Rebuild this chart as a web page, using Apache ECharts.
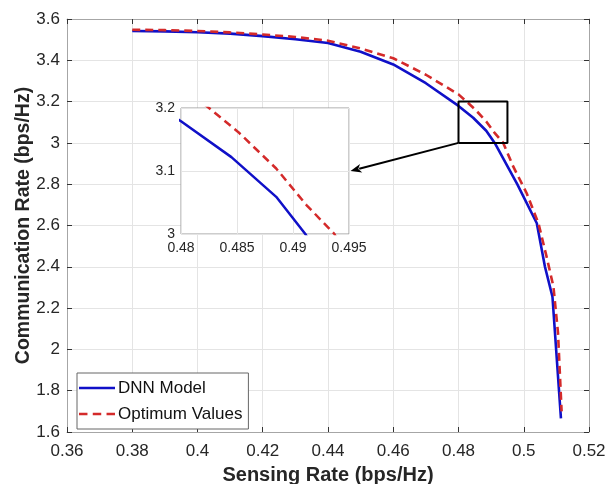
<!DOCTYPE html>
<html>
<head>
<meta charset="utf-8">
<script src="https://cdn.jsdelivr.net/npm/echarts@6/dist/echarts.min.js"></script>
<style>html,body{margin:0;padding:0;background:#fff}#c{width:608px;height:484px}</style>
</head>
<body>
<div id="c"></div>
<script>
// Data
const dnnX = [0.38, 0.39, 0.40, 0.41, 0.42, 0.43, 0.44, 0.45, 0.46, 0.47, 0.48, 0.4845, 0.4885, 0.4911, 0.498, 0.504, 0.5065, 0.5088, 0.5114];
const dnnY = [3.542, 3.540, 3.536, 3.529, 3.517, 3.502, 3.484, 3.441, 3.380, 3.289, 3.179, 3.122, 3.059, 3.000, 2.800, 2.611, 2.400, 2.255, 1.666];
const optX = [0.38, 0.39, 0.40, 0.41, 0.42, 0.43, 0.44, 0.45, 0.46, 0.47, 0.48, 0.4825, 0.4851, 0.4885, 0.4912, 0.4937, 0.4968, 0.5009, 0.5045, 0.5070, 0.5091, 0.5105, 0.5116];
const optY = [3.548, 3.546, 3.542, 3.535, 3.525, 3.513, 3.495, 3.457, 3.410, 3.330, 3.235, 3.200, 3.162, 3.104, 3.046, 3.000, 2.885, 2.756, 2.611, 2.449, 2.304, 2.080, 1.700];
const seriesNames = ['DNN Model', 'Optimum Values'];
const zoomX = [0.48, 0.495];
const zoomY = [3.0, 3.2];
const xTicks = {min: 0.36, max: 0.52, interval: 0.02};
const yTicks = {min: 1.6, max: 3.6, interval: 0.2};
const insetXTicks = {min: 0.48, max: 0.495, interval: 0.005};
const insetYTicks = {min: 3.0, max: 3.2, interval: 0.1};

const pairs = (xs, ys) => xs.map((x, i) => [x, ys[i]]);
const fmt = v => String(+(+v).toFixed(4));
const FONT = 'Liberation Sans';
const BLUE = '#1010c8';
const RED = '#d42a2a';
const gridLine = {show: true, lineStyle: {color: '#e4e4e4', width: 1}};

const chart = echarts.init(document.getElementById('c'));
const mainAxisX = (pos, labels) => ({
  type: 'value', gridIndex: 0, position: pos, min: xTicks.min, max: xTicks.max, interval: xTicks.interval,
  axisLine: {show: true, onZero: false, lineStyle: {color: '#a6a6a6', width: 1}},
  axisTick: {show: true, inside: true, length: 5, lineStyle: {color: '#333'}},
  axisLabel: {show: labels, color: '#262626', fontFamily: FONT, fontSize: 17, margin: 11, formatter: fmt},
  splitLine: labels ? gridLine : {show: false},
  name: labels ? 'Sensing Rate (bps/Hz)' : '', nameLocation: 'middle', nameGap: 33, nameMoveOverlap: false,
  nameTextStyle: {color: '#262626', fontFamily: FONT, fontSize: 20, fontWeight: 'bold'}
});
const mainAxisY = (pos, labels) => ({
  type: 'value', gridIndex: 0, position: pos, min: yTicks.min, max: yTicks.max, interval: yTicks.interval,
  axisLine: {show: true, onZero: false, lineStyle: {color: '#a6a6a6', width: 1}},
  axisTick: {show: true, inside: true, length: 5, lineStyle: {color: '#333'}},
  axisLabel: {show: labels, color: '#262626', fontFamily: FONT, fontSize: 17, margin: 7, formatter: fmt},
  splitLine: labels ? gridLine : {show: false},
  name: labels ? 'Communication Rate (bps/Hz)' : '', nameLocation: 'middle', nameGap: 33, nameRotate: 90, nameMoveOverlap: false,
  nameTextStyle: {color: '#262626', fontFamily: FONT, fontSize: 19.5, fontWeight: 'bold'}
});

const option = {
  animation: false,
  backgroundColor: '#fff',
  grid: [
    {left: 67, top: 19, right: 19, bottom: 52, show: false, containLabel: false, outerBoundsMode: 'none'},
    {left: 181, top: 108, width: 168, height: 126, show: true, backgroundColor: '#fff', borderColor: '#9a9a9a', borderWidth: 1, z: 5,
     containLabel: false, outerBoundsMode: 'none'}
  ],
  legend: {
    data: [
      {name: seriesNames[0], icon: 'path://M0,0H36V2.5H0Z'},
      {name: seriesNames[1], icon: 'path://M0,0H8V2.5H0Z M13,0H21V2.5H13Z M26,0H34V2.5H26Z'}
    ],
    orient: 'vertical', left: 77, top: 373, itemWidth: 36, itemHeight: 2.5, itemGap: 6, symbolKeepAspect: false,
    padding: [5, 6, 5, 2], borderColor: '#666', borderWidth: 1, backgroundColor: '#fff', z: 8,
    textStyle: {color: '#111', fontFamily: FONT, fontSize: 17, padding: [0, 0, 0, -2], lineHeight: 20}
  },
  xAxis: [
    mainAxisX('bottom', true),
    mainAxisX('top', false),
    {type: 'value', gridIndex: 1, min: insetXTicks.min, max: insetXTicks.max, interval: insetXTicks.interval, z: 6,
     axisLine: {show: false}, axisTick: {show: false},
     axisLabel: {color: '#262626', fontFamily: FONT, fontSize: 14, margin: 7, formatter: fmt},
     splitLine: gridLine}
  ],
  yAxis: [
    mainAxisY('left', true),
    mainAxisY('right', false),
    {type: 'value', gridIndex: 1, min: insetYTicks.min, max: insetYTicks.max, interval: insetYTicks.interval, z: 6,
     axisLine: {show: false}, axisTick: {show: false},
     axisLabel: {color: '#262626', fontFamily: FONT, fontSize: 14, margin: 6, formatter: fmt},
     splitLine: gridLine}
  ],
  series: [
    {name: seriesNames[0], type: 'line', xAxisIndex: 0, yAxisIndex: 0, data: pairs(dnnX, dnnY), symbol: 'none',
     lineStyle: {color: BLUE, width: 2.6}, itemStyle: {color: BLUE}, z: 3},
    {name: seriesNames[1], type: 'line', xAxisIndex: 0, yAxisIndex: 0, data: pairs(optX, optY), symbol: 'none',
     lineStyle: {color: RED, width: 2.6, type: [8, 5]}, itemStyle: {color: RED}, z: 3},
    {name: seriesNames[0], type: 'line', xAxisIndex: 2, yAxisIndex: 2, data: pairs(dnnX, dnnY), symbol: 'none', clip: true,
     lineStyle: {color: BLUE, width: 2.5}, itemStyle: {color: BLUE}, z: 7},
    {name: seriesNames[1], type: 'line', xAxisIndex: 2, yAxisIndex: 2, data: pairs(optX, optY), symbol: 'none', clip: true,
     lineStyle: {color: RED, width: 2.5, type: [8, 5]}, itemStyle: {color: RED}, z: 7},
    {name: 'zoom', type: 'line', xAxisIndex: 0, yAxisIndex: 0, symbol: 'none', silent: true, z: 4,
     data: [[zoomX[0], zoomY[0]], [zoomX[1], zoomY[0]], [zoomX[1], zoomY[1]], [zoomX[0], zoomY[1]], [zoomX[0], zoomY[0]]],
     lineStyle: {color: '#000', width: 2}}
  ]
};
chart.setOption(option);

// Arrow from the zoom box to the inset, positioned through the axes' scales
const p0 = chart.convertToPixel({xAxisIndex: 0, yAxisIndex: 0}, [zoomX[0], zoomY[0]]);
const p1raw = chart.convertToPixel({xAxisIndex: 2, yAxisIndex: 2}, [zoomX[1], (zoomY[0] + zoomY[1]) / 2]);
const p1 = [p1raw[0] + 1.5, p1raw[1]];
const ang = Math.atan2(p1[1] - p0[1], p1[0] - p0[0]);
const L = 11, W = 4.5;
const base = [p1[0] - L * Math.cos(ang), p1[1] - L * Math.sin(ang)];
const nx = -Math.sin(ang), ny = Math.cos(ang);
chart.setOption({
  graphic: [
    {type: 'line', z: 10, shape: {x1: p0[0], y1: p0[1], x2: base[0] + 2 * Math.cos(ang), y2: base[1] + 2 * Math.sin(ang)},
     style: {stroke: '#000', lineWidth: 2}},
    {type: 'polygon', z: 10, shape: {points: [p1, [base[0] + nx * W, base[1] + ny * W], [base[0] + 3 * Math.cos(ang), base[1] + 3 * Math.sin(ang)], [base[0] - nx * W, base[1] - ny * W]]},
     style: {fill: '#000'}}
  ]
});
</script>
</body>
</html>
